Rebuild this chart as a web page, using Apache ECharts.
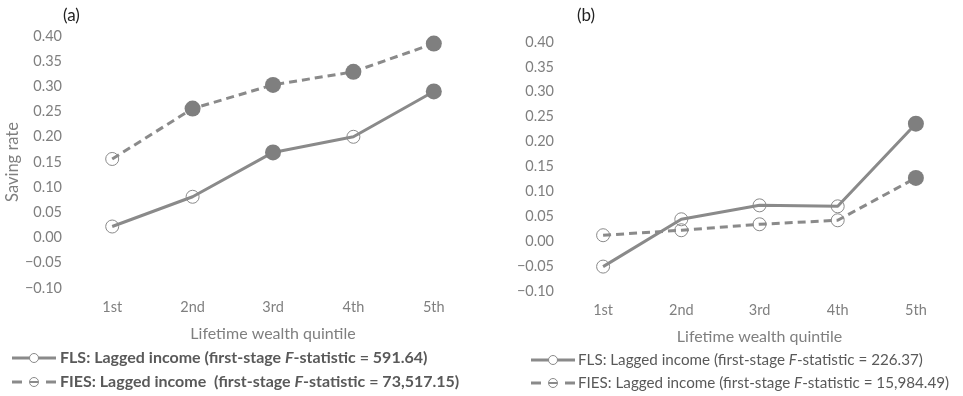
<!DOCTYPE html>
<html><head><meta charset="utf-8">
<script src="https://cdn.jsdelivr.net/npm/echarts@6/dist/echarts.min.js"></script>
<style>html,body{margin:0;padding:0;background:#fff}#c{width:963px;height:396px}</style>
</head><body><div id="c"></div>
<script>
const categories = ['1st','2nd','3rd','4th','5th'];
const yTicks = [-0.10,-0.05,0.00,0.05,0.10,0.15,0.20,0.25,0.30,0.35,0.40];
// Panel (a)
const aFLS = [0.022, 0.081, 0.169, 0.200, 0.290];
const aFLSFilled = [false, false, true, false, true];
const aFIES = [0.156, 0.256, 0.303, 0.329, 0.385];
const aFIESFilled = [false, true, true, true, true];
// Panel (b)
const bFLS = [-0.051, 0.044, 0.072, 0.070, 0.236];
const bFLSFilled = [false, false, false, false, true];
const bFIES = [0.012, 0.022, 0.034, 0.042, 0.127];
const bFIESFilled = [false, false, false, false, true];
const legendA = ['FLS: Lagged income (first-stage ', 'F', '-statistic = 591.64)'];
const legendA2 = ['FIES: Lagged income  (first-stage ', 'F', '-statistic = 73,517.15)'];
const legendB = ['FLS: Lagged income (first-stage ', 'F', '-statistic = 226.37)'];
const legendB2 = ['FIES: Lagged income (first-stage ', 'F', '-statistic = 15,984.49)'];

const LINE = '#8a8a8a', FILL = '#7f7f7f', TXT = '#7f7f7f', LEG = '#595959';
const FONT = 'Lato';

function pts(vals, filled) {
  return vals.map((v, i) => filled[i]
    ? {value: v, symbol: 'circle', symbolSize: 16, itemStyle: {color: FILL, borderWidth: 0}}
    : {value: v, symbol: 'circle', symbolSize: 13, itemStyle: {color: 'rgba(0,0,0,0)', borderColor: LINE, borderWidth: 1}});
}
function series(vals, filled, idx, dashed, z) {
  return {type: 'line', xAxisIndex: idx, yAxisIndex: idx, data: pts(vals, filled), z: z,
    lineStyle: {color: LINE, width: 3, type: dashed ? [8, 5] : 'solid'},
    itemStyle: {color: FILL}, showAllSymbol: true, animation: false};
}
function fmt(v) {
  const s = Math.abs(v).toFixed(2);
  return v < -1e-9 ? '\u2212' + s : s;
}
const yAx = (idx, name) => ({gridIndex: idx, type: 'value', min: -0.1, max: 0.4, interval: 0.05,
  axisLine: {show: false}, axisTick: {show: false}, splitLine: {show: false},
  axisLabel: {color: TXT, fontFamily: FONT, fontSize: 14.5, margin: 10, formatter: fmt},
  name: name, nameLocation: 'middle', nameRotate: 90, nameGap: 50,
  nameTextStyle: {color: TXT, fontFamily: FONT, fontSize: 16.5}});
const xAx = (idx) => ({gridIndex: idx, type: 'category', data: categories, boundaryGap: true,
  axisLine: {show: false}, axisTick: {show: false},
  axisLabel: {color: TXT, fontFamily: FONT, fontSize: 14.5, margin: 12},
  name: 'Lifetime wealth quintile', nameLocation: 'middle', nameGap: 38,
  nameTextStyle: {color: TXT, fontFamily: FONT, fontSize: 16}});

function legendIcon(x, y, dashed) {
  const els = [];
  if (dashed) {
    els.push({type: 'line', shape: {x1: x, y1: y, x2: x + 10, y2: y}, style: {stroke: LINE, lineWidth: 3}});
    els.push({type: 'line', shape: {x1: x + 34, y1: y, x2: x + 44, y2: y}, style: {stroke: LINE, lineWidth: 3}});
    els.push({type: 'line', shape: {x1: x + 18, y1: y, x2: x + 26, y2: y}, style: {stroke: LINE, lineWidth: 2}});
  } else {
    els.push({type: 'line', shape: {x1: x, y1: y, x2: x + 44, y2: y}, style: {stroke: LINE, lineWidth: 3}});
  }
  els.push({type: 'circle', shape: {cx: x + 22, cy: y, r: 4.5}, style: {fill: dashed ? 'rgba(0,0,0,0)' : '#fff', stroke: LINE, lineWidth: 1}});
  return els;
}
function legendText(x, y, parts, bold, size) {
  return {type: 'text', x: x, y: y, style: {
    text: '{a|' + parts[0] + '}{i|' + parts[1] + '}{a|' + parts[2] + '}',
    verticalAlign: 'middle',
    rich: {
      a: {fontFamily: FONT, fontSize: size, fontWeight: bold ? 'bold' : 'normal', fill: LEG},
      i: {fontFamily: FONT, fontSize: size, fontWeight: bold ? 'bold' : 'normal', fontStyle: 'italic', fill: LEG}
    }}};
}

const graphic = [
  {type: 'text', x: 63, y: 16, style: {text: '(a)', fontFamily: FONT, fontSize: 17, fill: '#222', verticalAlign: 'middle'}},
  {type: 'text', x: 577, y: 16, style: {text: '(b)', fontFamily: FONT, fontSize: 17, fill: '#222', verticalAlign: 'middle'}},
  ...legendIcon(12, 358, false), legendText(60, 358, legendA, true, 16),
  ...legendIcon(12, 382, true), legendText(60, 382, legendA2, true, 16),
  ...legendIcon(531, 360, false), legendText(578, 360, legendB, false, 15.2),
  ...legendIcon(531, 383, true), legendText(578, 383, legendB2, false, 15.2)
];

const chart = echarts.init(document.getElementById('c'), null, {renderer: 'canvas'});
chart.setOption({
  animation: false,
  backgroundColor: '#fff',
  grid: [
    {left: 72, right: 489, top: 36, bottom: 108},
    {left: 564, right: 8, top: 42, bottom: 105}
  ],
  xAxis: [xAx(0), xAx(1)],
  yAxis: [yAx(0, 'Saving rate'), yAx(1, '')],
  series: [
    series(aFLS, aFLSFilled, 0, false, 3),
    series(aFIES, aFIESFilled, 0, true, 2),
    series(bFLS, bFLSFilled, 1, false, 3),
    series(bFIES, bFIESFilled, 1, true, 2)
  ],
  graphic: graphic
});
</script></body></html>
